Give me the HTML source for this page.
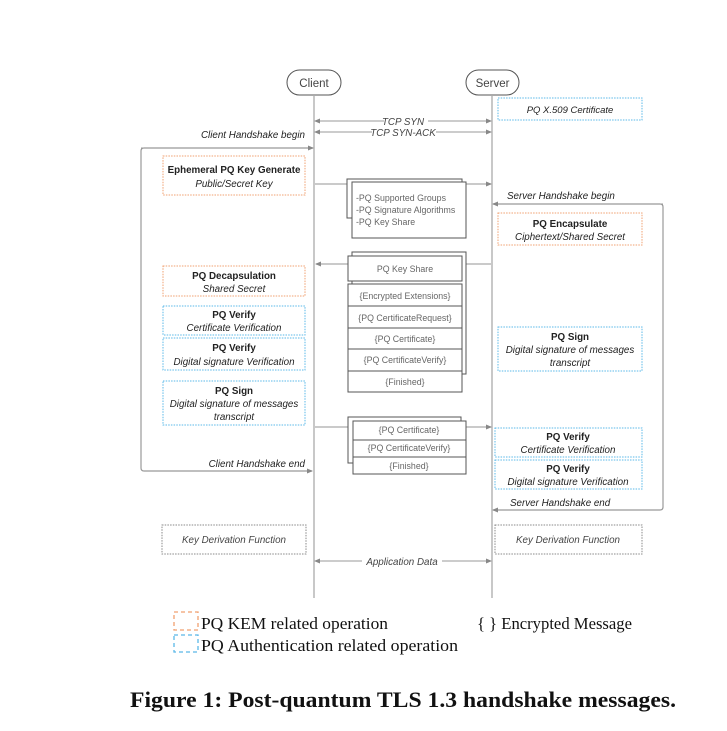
<!DOCTYPE html>
<html><head><meta charset="utf-8"><style>
html,body{margin:0;padding:0;background:#fff;}
svg{display:block;}
.s{font-family:"Liberation Sans",sans-serif;}
</style></head><body>
<svg width="727" height="731" viewBox="0 0 727 731" xmlns="http://www.w3.org/2000/svg">
<defs>
<marker id="a" markerWidth="6" markerHeight="6" refX="5" refY="3" orient="auto" markerUnits="userSpaceOnUse"><path d="M0,0.5 L6,3 L0,5.5z" fill="#888"/></marker>
<marker id="b" markerWidth="6" markerHeight="6" refX="1" refY="3" orient="auto" markerUnits="userSpaceOnUse"><path d="M6,0.5 L0,3 L6,5.5z" fill="#888"/></marker>
</defs>
<g class="s" font-size="9.8" fill="#222">
<rect x="287" y="70" width="54" height="25" rx="12.5" fill="#fff" stroke="#555"/>
<text x="314" y="87" text-anchor="middle" font-size="11.5" fill="#444">Client</text>
<rect x="466" y="70" width="53" height="25" rx="12.5" fill="#fff" stroke="#555"/>
<text x="492.5" y="87" text-anchor="middle" font-size="11.5" fill="#444">Server</text>
<line x1="314" y1="95" x2="314" y2="598" stroke="#aaa" stroke-width="1.3"/>
<line x1="492" y1="95" x2="492" y2="598" stroke="#aaa" stroke-width="1.3"/>

<line x1="315" y1="121" x2="491" y2="121" stroke="#999" marker-start="url(#b)" marker-end="url(#a)"/>
<line x1="315" y1="132" x2="491" y2="132" stroke="#999" marker-start="url(#b)" marker-end="url(#a)"/>
<rect x="384" y="115" width="44" height="11" fill="#fff"/>
<rect x="372" y="126" width="64" height="11" fill="#fff"/>
<text x="403" y="125" text-anchor="middle" font-style="italic" fill="#444">TCP SYN</text>
<text x="403" y="136" text-anchor="middle" font-style="italic" fill="#444">TCP SYN-ACK</text>

<path d="M313,148 H144 Q141,148 141,151 V468 Q141,471 144,471 H312" fill="none" stroke="#999" stroke-width="1.2" marker-end="url(#a)"/>
<line x1="141" y1="148" x2="313" y2="148" stroke="#999" marker-end="url(#a)"/>
<text x="305" y="138" text-anchor="end" font-style="italic">Client Handshake begin</text>
<text x="305" y="467" text-anchor="end" font-style="italic">Client Handshake end</text>

<path d="M493,204 H660 Q663,204 663,207 V507 Q663,510 660,510 H493" fill="none" stroke="#999" stroke-width="1.2" marker-end="url(#a)"/>
<line x1="663" y1="204" x2="493" y2="204" stroke="#999" marker-end="url(#a)"/>
<text x="507" y="199" font-style="italic">Server Handshake begin</text>
<text x="510" y="506" font-style="italic">Server Handshake end</text>

<g fill="#fff" stroke="#f0a070" stroke-dasharray="1.5,1.2">
<rect x="163" y="156" width="142" height="39"/>
<rect x="163" y="266" width="142" height="30"/>
<rect x="498" y="213" width="144" height="32"/>
</g>
<g fill="#fff" stroke="#5ab8e8" stroke-dasharray="1.5,1.2">
<rect x="498" y="98" width="144" height="22"/>
<rect x="163" y="306" width="142" height="29"/>
<rect x="163" y="338" width="142" height="32"/>
<rect x="163" y="381" width="142" height="44"/>
<rect x="498" y="327" width="144" height="44"/>
<rect x="495" y="428" width="147" height="29"/>
<rect x="495" y="460" width="147" height="29"/>
</g>
<g fill="#fff" stroke="#888" stroke-dasharray="1.5,1.2">
<rect x="162" y="525" width="144" height="29"/>
<rect x="495" y="525" width="147" height="29"/>
</g>
<text x="234" y="173" text-anchor="middle" font-weight="bold">Ephemeral PQ Key Generate</text>
<text x="234" y="187" text-anchor="middle" font-style="italic">Public/Secret Key</text>
<text x="570" y="113" text-anchor="middle" font-style="italic" font-size="9.5">PQ X.509 Certificate</text>
<text x="570" y="227" text-anchor="middle" font-weight="bold">PQ Encapsulate</text>
<text x="570" y="240" text-anchor="middle" font-style="italic">Ciphertext/Shared Secret</text>
<text x="234" y="279" text-anchor="middle" font-weight="bold">PQ Decapsulation</text>
<text x="234" y="292" text-anchor="middle" font-style="italic">Shared Secret</text>
<text x="234" y="318" text-anchor="middle" font-weight="bold">PQ Verify</text>
<text x="234" y="331" text-anchor="middle" font-style="italic">Certificate Verification</text>
<text x="234" y="351" text-anchor="middle" font-weight="bold">PQ Verify</text>
<text x="234" y="365" text-anchor="middle" font-style="italic">Digital signature Verification</text>
<text x="234" y="394" text-anchor="middle" font-weight="bold">PQ Sign</text>
<text x="234" y="407" text-anchor="middle" font-style="italic">Digital signature of messages</text>
<text x="234" y="420" text-anchor="middle" font-style="italic">transcript</text>
<text x="570" y="340" text-anchor="middle" font-weight="bold">PQ Sign</text>
<text x="570" y="353" text-anchor="middle" font-style="italic">Digital signature of messages</text>
<text x="570" y="366" text-anchor="middle" font-style="italic">transcript</text>
<text x="568" y="440" text-anchor="middle" font-weight="bold">PQ Verify</text>
<text x="568" y="453" text-anchor="middle" font-style="italic">Certificate Verification</text>
<text x="568" y="472" text-anchor="middle" font-weight="bold">PQ Verify</text>
<text x="568" y="485" text-anchor="middle" font-style="italic">Digital signature Verification</text>
<text x="234" y="543" text-anchor="middle" font-style="italic" fill="#444">Key Derivation Function</text>
<text x="568" y="543" text-anchor="middle" font-style="italic" fill="#444">Key Derivation Function</text>

<line x1="315" y1="184" x2="491" y2="184" stroke="#aaa" stroke-width="1.2" marker-end="url(#a)"/>
<rect x="347" y="179" width="115" height="39" fill="#fff" stroke="#555"/>
<rect x="352" y="182" width="114" height="56" fill="#fff" stroke="#555"/>
<g font-size="8.8" fill="#666">
<text x="356" y="201">-PQ Supported Groups</text>
<text x="356" y="213">-PQ Signature Algorithms</text>
<text x="356" y="225">-PQ Key Share</text>
</g>

<line x1="491" y1="264" x2="316" y2="264" stroke="#aaa" stroke-width="1.2" marker-end="url(#a)"/>
<rect x="352" y="252" width="114" height="122" fill="#fff" stroke="#555"/>
<g fill="#fff" stroke="#555">
<rect x="348" y="256" width="114" height="25"/>
<rect x="348" y="284" width="114" height="22"/>
<rect x="348" y="306" width="114" height="22"/>
<rect x="348" y="328" width="114" height="21"/>
<rect x="348" y="349" width="114" height="22"/>
<rect x="348" y="371" width="114" height="21"/>
</g>
<g font-size="8.8" fill="#666" text-anchor="middle">
<text x="405" y="272">PQ Key Share</text>
<text x="405" y="299">{Encrypted Extensions}</text>
<text x="405" y="321">{PQ CertificateRequest}</text>
<text x="405" y="342">{PQ Certificate}</text>
<text x="405" y="363">{PQ CertificateVerify}</text>
<text x="405" y="385">{Finished}</text>
</g>

<line x1="315" y1="427" x2="491" y2="427" stroke="#aaa" stroke-width="1.2" marker-end="url(#a)"/>
<rect x="348" y="417" width="113" height="46" fill="#fff" stroke="#555"/>
<g fill="#fff" stroke="#555">
<rect x="353" y="421" width="113" height="19"/>
<rect x="353" y="440" width="113" height="17"/>
<rect x="353" y="457" width="113" height="17"/>
</g>
<g font-size="8.8" fill="#666" text-anchor="middle">
<text x="409" y="433">{PQ Certificate}</text>
<text x="409" y="451">{PQ CertificateVerify}</text>
<text x="409" y="469">{Finished}</text>
</g>

<line x1="315" y1="561" x2="491" y2="561" stroke="#999" marker-start="url(#b)" marker-end="url(#a)"/>
<rect x="362" y="555" width="80" height="12" fill="#fff"/>
<text x="402" y="565" text-anchor="middle" font-style="italic" fill="#444">Application Data</text>
</g>

<rect x="174" y="612" width="24" height="18" fill="none" stroke="#f0a070" stroke-width="1.3" stroke-dasharray="4,3"/>
<rect x="174" y="635" width="24" height="17" fill="none" stroke="#5ab8e8" stroke-width="1.3" stroke-dasharray="4,3"/>
<g font-family="'Liberation Serif',serif" font-size="17" fill="#111">
<text x="201" y="629" textLength="187" lengthAdjust="spacingAndGlyphs">PQ KEM related operation</text>
<text x="201" y="651" textLength="257" lengthAdjust="spacingAndGlyphs">PQ Authentication related operation</text>
<text x="477" y="629" textLength="155" lengthAdjust="spacingAndGlyphs">{ } Encrypted Message</text>
<text x="130" y="707" font-weight="bold" font-size="22.5" textLength="546" lengthAdjust="spacingAndGlyphs">Figure 1: Post-quantum TLS 1.3 handshake messages.</text>
</g>
</svg>
</body></html>
